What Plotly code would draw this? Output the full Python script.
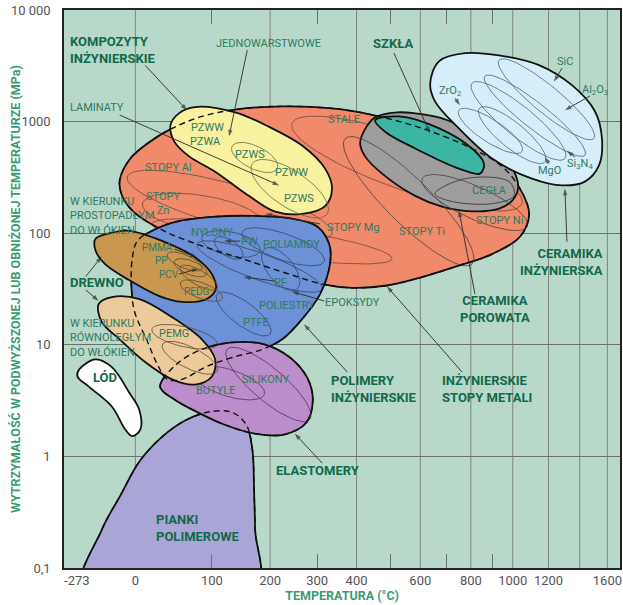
import numpy as np
import plotly.graph_objects as go

# ---------------- figure geometry ----------------
W, H = 623, 605
ML, MR, MT, MB = 64, 3, 10, 37

# ---------------- axes ----------------
X_RANGE_C = [-69, 1699]            # visible temperature span (deg C)
Y_RANGE = [0.1, 10000]             # MPa
X_TICK_C = [-58, 0, 100, 200, 300, 400, 600, 800, 1000, 1200, 1600]
X_TICK_TEXT = ["-273", "0", "100", "200", "300", "400", "600", "800", "1000", "1200", "1600"]
X_GRID_C = [0, 200, 400, 600, 800, 1000, 1200, 1400, 1600]
X_MINOR_C = [100, 300, 500, 700, 900]
Y_TICKS = [0.1, 1, 10, 100, 1000, 10000]
Y_TICK_TEXT = ["0,1", "1", "10", "100", "1000", "10 000"]
X_TITLE = "TEMPERATURA (°C)"
Y_TITLE = "WYTRZYMAŁOŚĆ W PODWYŻSZONEJ LUB OBNIŻONEJ TEMPERATURZE (MPa)"

# ---------------- material envelopes (deg C, MPa) ----------------
PIANKI_T = [-53, -35, -16, 4.5, 32, 64, 100, 132, 156, 167, 170, 172, 174]
PIANKI_S = [0.063, 0.22, 0.45, 0.90, 1.51, 2.14, 2.53, 2.48, 1.93, 1.15, 0.50, 0.22, 0.063]

METAL_T = [-17, -5.6, 17, 44, 85, 140, 224, 336, 444, 607, 805, 946, 1038, 1088, 1038, 897,
           741, 607, 489, 388, 312, 238, 149, 85, 36, -1, -14]
METAL_S = [296, 467, 664, 869, 1112, 1287, 1370, 1314, 1150, 869, 574, 396, 251, 149, 93, 65,
           50.6, 40.5, 34, 32.4, 35, 43, 59, 77, 103, 153, 212]

KOMPOZYT_T = [42, 53, 75, 137, 198, 266, 319, 336, 319, 266, 210, 162, 105, 67, 47]
KOMPOZYT_S = [925, 1185, 1350, 1211, 897, 610, 379, 251, 175, 149, 156, 214, 356, 488, 662]

POLIMER_T = [185, 132, 90, 57, 38, 25.5, 13.5, -1, -4.5, -3.5, 2, 19, 50, 100, 167, 244, 300,
             329, 331, 307, 266, 224]
POLIMER_S = [9.1, 7.7, 6.3, 4.9, 4.9, 6.7, 10.8, 19.9, 35, 59, 85, 105, 127, 140, 143, 135, 115,
             80, 53, 28.5, 17.0, 11.2]

ELAST_T = [290, 275, 228, 171, 119, 78, 47, 29, 50, 85, 132, 189, 240, 277]
ELAST_S = [3.24, 2.0, 1.57, 1.6, 1.93, 2.5, 3.24, 4.2, 6.7, 9.1, 10.5, 10.1, 7.7, 5.1]

DREWNO_POP_T = [106, 92, 57, 28, -7, -32, -41, -41, -25, -7, 32, 75, 100]
DREWNO_POP_S = [31.6, 25.7, 24.2, 27.3, 38, 53, 70, 89, 101, 105, 85, 61, 43]

DREWNO_WZD_T = [-38, -25, 4.5, 44, 85, 105, 100, 75, 44, 11, -17, -35]
DREWNO_WZD_S = [23.2, 26.8, 25.7, 17.7, 11.2, 7.4, 5.2, 4.4, 4.9, 7.0, 11.2, 16]

LOD_T = [-3.5, -11, -25, -47, -57.5, -56, -41, -25, -7, 4.5, 5.5]
LOD_S = [1.52, 1.74, 2.8, 4.2, 5.2, 6.0, 7.4, 6.3, 3.75, 2.59, 1.74]

POROW_T = [410, 422, 453, 521, 582, 681, 775, 931, 1012, 1028, 996, 931, 805, 681, 582, 474, 424]
POROW_S = [637, 835, 1091, 1209, 1185, 1069, 869, 542, 342, 251, 195, 166, 157, 173, 216, 342, 488]

SZKLA_T = [453, 527, 670, 805, 859, 841, 749, 582, 483]
SZKLA_S = [1025, 1112, 869, 574, 421, 342, 379, 574, 812]

CERAM_T = [636, 670, 775, 931, 1144, 1348, 1507, 1559, 1537, 1436, 1283, 1104, 897, 749, 654]
CERAM_S = [2205, 3487, 4106, 3925, 3209, 2120, 1238, 706, 405, 290, 268, 308, 467, 869, 1520]

CEGLA_T = [654, 775, 981, 1006, 897, 709]
CEGLA_S = [226, 308, 290, 216, 184, 195]

# sub-material ranges: (T1, S1) - (T2, S2) ends of the long axis, and thickness ratio
SUB_METAL = [(-9, 320, 336, 98.8, 0.2), (8, 184, 185, 121, 0.3), (19, 121, 505, 59, 0.12),
             (244, 963, 1049, 184, 0.22)]
SUB_METAL_HI = [(370, 706, 805, 53, 0.25), (607, 308, 1077, 115, 0.28)]
SUB_KOMP = [(132, 600, 214, 379, 0.45), (167, 421, 324, 149, 0.4)]
SUB_POLY = [(85, 91.5, 181, 70, 0.4), (105, 89, 149, 61, 0.5), (149, 102, 317, 56, 0.3),
            (189, 72, 255, 31.6, 0.5), (78, 80, 312, 31.6, 0.2), (108, 28.5, 200, 12.5, 0.35)]
SUB_ELAST = [(124, 9.1, 283, 2.14, 0.3), (71, 5.8, 189, 3.6, 0.35)]
SUB_WOOD = [(38, 65, 85, 48, 0.35), (47, 56, 92, 43, 0.4), (55, 50, 108, 32, 0.35),
            (55, 36, 116, 26, 0.35)]
SUB_TAN = [(19, 13.8, 108, 10.1, 0.3), (32, 10.1, 108, 5.8, 0.35)]
SUB_CERAM = [(931, 3560, 1500, 706, 0.22), (805, 2205, 1302, 467, 0.25),
             (863, 2550, 1436, 500, 0.2), (838, 1314, 1179, 435, 0.3), (749, 1262, 1049, 540, 0.3)]

# ---------------- labels ----------------
THIN_LABELS = [
    ("JEDNOWARSTWOWE", 196, 5050, "center"), ("LAMINATY", -66, 1350, "left"),
    ("STALE", 367, 1045, "center"), ("PZWW", 94, 886, "center"), ("PZWA", 91, 664, "center"),
    ("PZWS", 162, 508, "center"), ("PZWW", 244, 349, "center"), ("PZWS", 259, 204, "center"),
    ("STOPY Al", 39, 388, "center"), ("STOPY<br>Zn", 33, 184, "center"),
    ("W KIERUNKU<br>PROSTOPADŁYM<br>DO WŁÓKIEN", -66, 143, "left"),
    ("STOPY Mg", 391, 112, "center"), ("STOPY Ti", 607, 104, "center"),
    ("STOPY Ni", 931, 129, "center"),
    ("NYLONY", 100, 101, "center"), ("PW", 162, 85, "center"), ("POLIAMIDY", 244, 79, "center"),
    ("PF", 220, 36.5, "center"), ("POLIESTRY", 234, 22.7, "center"),
    ("EPOKSYDY", 388, 24, "center"), ("PTFE", 174, 15.8, "center"),
    ("W KIERUNKU<br>RÓWNOLEGŁYM<br>DO WŁÓKIEN", -66, 11.5, "left"),
    ("PEMG", 47, 12.5, "center"), ("SILIKONY", 191, 4.9, "center"), ("BUTYLE", 105, 3.9, "center"),
    ("CEGŁA", 883, 239, "center"), ("SiC", 1302, 3487, "center"),
    ("Al<sub>2</sub>O<sub>3</sub>", 1507, 1900, "center"), ("ZrO<sub>2</sub>", 713, 1870, "center"),
    ("MgO", 1203, 365, "center"), ("Si<sub>3</sub>N<sub>4</sub>", 1401, 421, "center"),
]
SMALL_LABELS = [
    ("PMMA", 25.5, 74.5, "center"), ("PP", 30.5, 57, "center"), ("PCV", 40, 42.5, "center"),
    ("PEDG", 78, 30, "center"),
]
BOLD_LABELS = [
    ("KOMPOZYTY<br>INŻYNIERSKIE", -66, 4370, "left"), ("SZKŁA", 508, 5050, "center"),
    ("DREWNO", -66, 36, "left"), ("LÓD", -32, 5.1, "center"),
    ("POLIMERY<br>INŻYNIERSKIE", 329, 4.0, "left"),
    ("INŻYNIERSKIE<br>STOPY METALI", 674, 4.0, "left"),
    ("CERAMIKA<br>POROWATA", 912, 20.9, "center"),
    ("CERAMIKA<br>INŻYNIERSKA", 1581, 55, "right"),
    ("ELASTOMERY", 208, 0.75, "left"), ("PIANKI<br>POLIMEROWE", 21, 0.23, "left"),
]
# leader arrows: tail (T, S) -> head (T, S)
ARROWS = [
    (11, 3200, 64, 1263), (158, 4370, 127, 736), (-17, 1145, 218, 268), (511, 4106, 636, 783),
    (733, 1617, 753, 1400), (1283, 3008, 1233, 2270), (1472, 1700, 1302, 1263),
    (1203, 421, 1178, 480), (1368, 480, 1315, 548), (1315, 84, 1302, 251),
    (818, 28.5, 749, 160), (762, 5.7, 489, 33.4), (375, 5.7, 270, 15.3), (312, 0.87, 250, 1.6),
    (-50, 41, -35, 62), (-50, 31, -38, 24.7), (307, 121, 191, 149), (208, 37.3, 152, 40.6),
    (146, 85, 119, 85), (47, 72, 78, 61), (53, 43, 80, 48), (317, 24.7, 244, 30),
]

# ---------------- helpers ----------------
def K(t):
    return np.asarray(t, float) + 273.0

XR = [np.log10(X_RANGE_C[0] + 273.0), np.log10(X_RANGE_C[1] + 273.0)]
YR = [np.log10(Y_RANGE[0]), np.log10(Y_RANGE[1])]
PXX = (W - ML - MR) / (XR[1] - XR[0])
PXY = (H - MT - MB) / (YR[1] - YR[0])


def closed(T, S):
    return K(list(T) + [T[0]]), list(S) + [S[0]]


def blob(T, S, fill, lw=1.8):
    x, y = closed(T, S)
    return go.Scatter(x=x, y=y, mode="lines", fill="toself", fillcolor=fill,
                      line=dict(color="#111", width=lw, shape="spline", smoothing=1.0),
                      hoverinfo="skip", showlegend=False)


def dashed(T, S):
    x, y = closed(T, S)
    return go.Scatter(x=x, y=y, mode="lines",
                      line=dict(color="#111", width=1.4, dash="6px,4px", shape="spline",
                                smoothing=1.0),
                      hoverinfo="skip", showlegend=False)


def ellipse(t1, s1, t2, s2, asp, n=80):
    X1, X2 = np.log10(t1 + 273.0) * PXX, np.log10(t2 + 273.0) * PXX
    Y1, Y2 = np.log10(s1) * PXY, np.log10(s2) * PXY
    cx, cy = (X1 + X2) / 2, (Y1 + Y2) / 2
    a = np.hypot(X2 - X1, Y2 - Y1) / 2
    b = a * asp
    th = np.arctan2(Y2 - Y1, X2 - X1)
    u = np.linspace(0, 2 * np.pi, n)
    X = cx + a * np.cos(u) * np.cos(th) - b * np.sin(u) * np.sin(th)
    Y = cy + a * np.cos(u) * np.sin(th) + b * np.sin(u) * np.cos(th)
    return 10 ** (X / PXX), 10 ** (Y / PXY)


def thin(items, color, width=0.8):
    xs, ys = [], []
    for it in items:
        ex, ey = ellipse(*it)
        xs += list(ex) + [None]
        ys += list(ey) + [None]
    return go.Scatter(x=xs, y=ys, mode="lines", line=dict(color=color, width=width),
                      hoverinfo="skip", showlegend=False)


fig = go.Figure()

# vertical grid
gx, gy = [], []
for g in X_GRID_C:
    gx += [g + 273.0, g + 273.0, None]
    gy += [Y_RANGE[0], Y_RANGE[1], None]
fig.add_trace(go.Scatter(x=gx, y=gy, mode="lines", line=dict(color="#6e6e6e", width=0.8),
                         hoverinfo="skip", showlegend=False))

fig.add_trace(blob(PIANKI_T, PIANKI_S, "#aaa5d7"))
fig.add_trace(blob(METAL_T, METAL_S, "#f08a6a"))
fig.add_trace(thin(SUB_METAL, "#6a4a40"))
fig.add_trace(blob(KOMPOZYT_T, KOMPOZYT_S, "#f8f1a0"))
fig.add_trace(thin(SUB_KOMP, "#6a6a40"))
fig.add_trace(blob(POLIMER_T, POLIMER_S, "#6c91d6"))
fig.add_trace(thin(SUB_POLY, "#34466a"))
fig.add_trace(blob(ELAST_T, ELAST_S, "#bb8dca"))
fig.add_trace(thin(SUB_ELAST, "#4a3a5a"))
fig.add_trace(blob(DREWNO_POP_T, DREWNO_POP_S, "#c9974f"))
fig.add_trace(thin(SUB_WOOD, "#5a4a30"))
fig.add_trace(blob(DREWNO_WZD_T, DREWNO_WZD_S, "#edca9c"))
fig.add_trace(thin(SUB_TAN, "#5a4a30"))
fig.add_trace(blob(LOD_T, LOD_S, "#ffffff"))
fig.add_trace(blob(POROW_T, POROW_S, "#9e9e9e"))
fig.add_trace(thin(SUB_METAL_HI, "#4a4040"))
x, y = closed(CEGLA_T, CEGLA_S)
fig.add_trace(go.Scatter(x=x, y=y, mode="lines",
                         line=dict(color="#3a3a3a", width=0.9, shape="spline"),
                         hoverinfo="skip", showlegend=False))
fig.add_trace(blob(SZKLA_T, SZKLA_S, "#3db5a5"))
fig.add_trace(blob(CERAM_T, CERAM_S, "#d5eef9"))
fig.add_trace(thin(SUB_CERAM, "#4d6478"))

# hidden outlines
fig.add_trace(dashed(METAL_T, METAL_S))
fig.add_trace(dashed(POLIMER_T, POLIMER_S))
fig.add_trace(dashed(ELAST_T, ELAST_S))
fig.add_trace(dashed(PIANKI_T, PIANKI_S))

# leader arrows
for (t1, s1, t2, s2) in ARROWS:
    fig.add_trace(go.Scatter(x=K([t1, t2]), y=[s1, s2], mode="lines+markers",
                             line=dict(color="#2a2a2a", width=0.9),
                             marker=dict(symbol="arrow", size=[0, 7], angleref="previous",
                                         color="#2a2a2a", line=dict(width=0)),
                             hoverinfo="skip", showlegend=False))

ann = []
for labels, size in ((THIN_LABELS, 11), (SMALL_LABELS, 10)):
    for (txt, t, s, anc) in labels:
        ann.append(dict(x=np.log10(t + 273.0), y=np.log10(s), xref="x", yref="y", text=txt,
                        showarrow=False, xanchor=anc, yanchor="middle", align=anc,
                        font=dict(family="Roboto", size=size, color="#2f7a5f")))
for (txt, t, s, anc) in BOLD_LABELS:
    ann.append(dict(x=np.log10(t + 273.0), y=np.log10(s), xref="x", yref="y",
                    text="<b>" + txt.replace("<br>", "</b><br><b>") + "</b>",
                    showarrow=False, xanchor=anc, yanchor="middle", align=anc,
                    font=dict(family="Roboto", size=13, color="#12694b")))
# vertical axis title, placed in the left margin
ann.append(dict(x=-(ML - 15) / (W - ML - MR), y=0.5, xref="paper", yref="paper",
                text="<b>" + Y_TITLE + "</b>", textangle=-90, showarrow=False,
                xanchor="center", yanchor="middle",
                font=dict(family="Roboto", size=12.5, color="#3a9c77")))

fig.update_layout(
    width=W, height=H, margin=dict(l=ML, r=MR, t=MT, b=MB),
    paper_bgcolor="white", plot_bgcolor="#b8d8ca", showlegend=False,
    annotations=ann,
    xaxis=dict(type="log", range=XR, tickmode="array", tickvals=list(K(X_TICK_C)),
               ticktext=X_TICK_TEXT, ticks="", showgrid=False, zeroline=False,
               showline=True, linecolor="#222", linewidth=1.5, mirror="ticks",
               automargin=False,
               tickfont=dict(family="Roboto", size=13, color="#555"),
               minor=dict(tickmode="array", tickvals=list(K(X_MINOR_C)), ticks="inside",
                          ticklen=14, tickwidth=0.8, tickcolor="#6e6e6e", showgrid=False),
               title=dict(text="<b>" + X_TITLE + "</b>", standoff=3,
                          font=dict(family="Roboto", size=12.5, color="#3a9c77"))),
    yaxis=dict(type="log", range=YR, tickmode="array", tickvals=Y_TICKS,
               ticktext=Y_TICK_TEXT, ticks="", showgrid=True, gridcolor="#6e6e6e",
               gridwidth=0.8, zeroline=False, showline=True, linecolor="#222",
               linewidth=1.5, mirror=True, ticklabelstandoff=9, automargin=False,
               tickfont=dict(family="Roboto", size=13, color="#555")),
)

fig.write_html("out.html", config={"displayModeBar": False},
               post_script="document.body.style.margin='0px';document.body.style.padding='0px';")
